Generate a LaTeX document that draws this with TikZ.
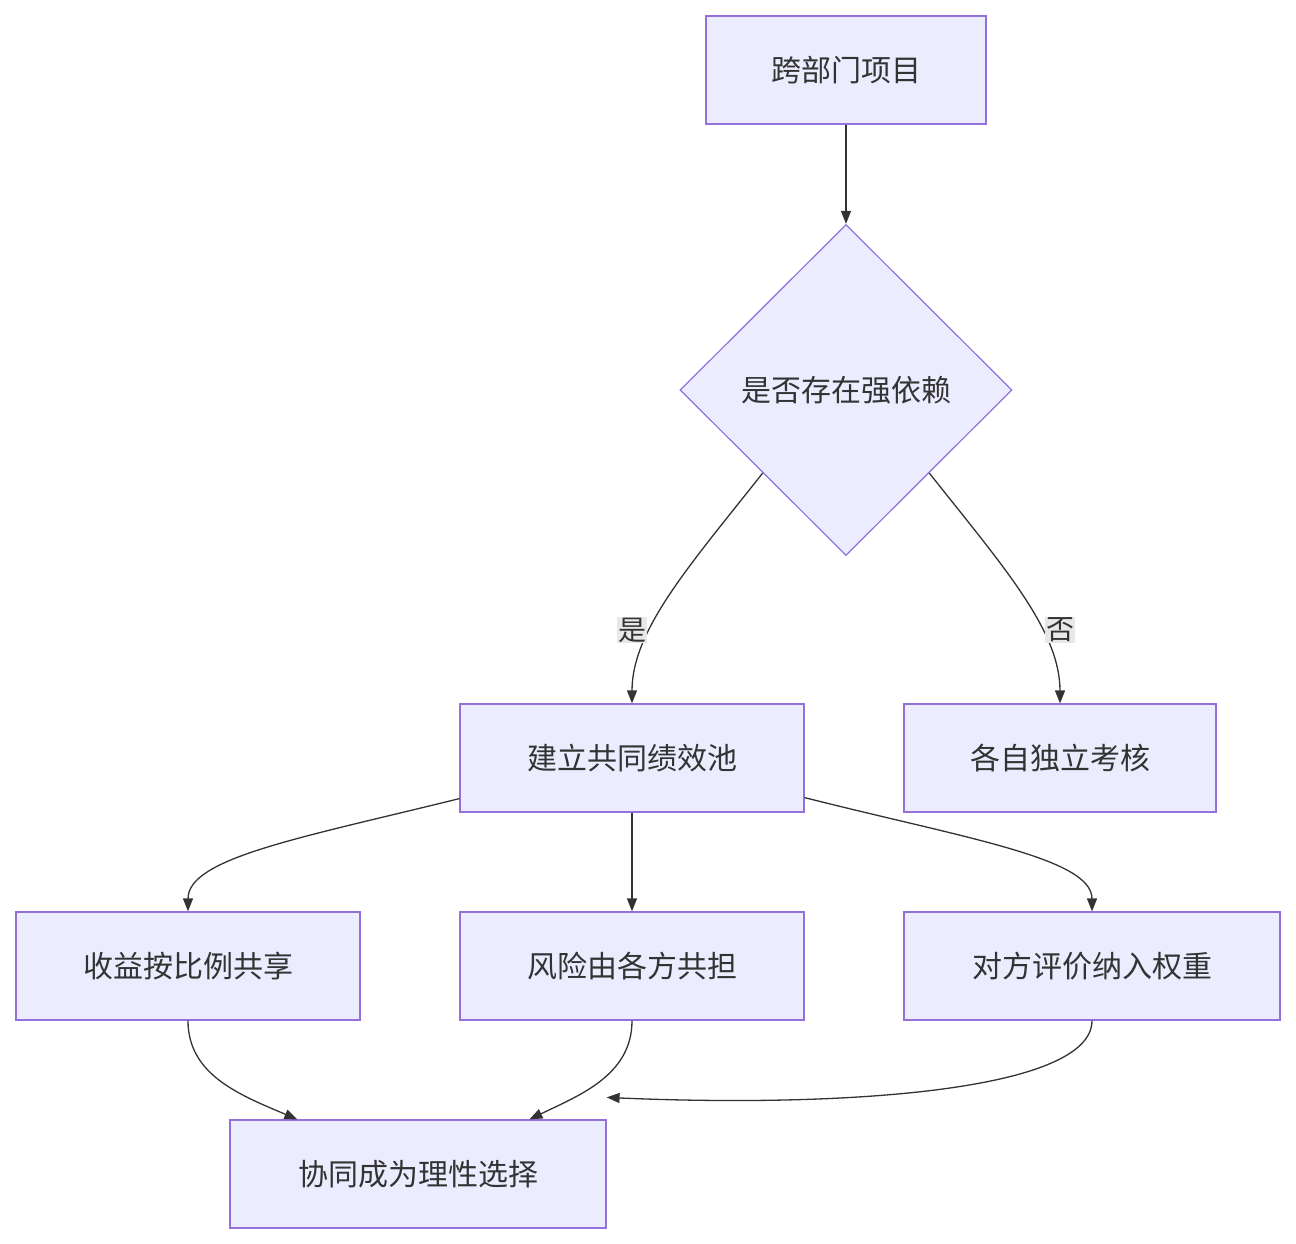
\documentclass[tikz,border=0pt]{standalone}
\usepackage{fontspec}
\setmainfont{Noto Sans CJK SC}
\usetikzlibrary{shapes.geometric,arrows.meta,calc}
\definecolor{nfill}{HTML}{ECECFF}
\definecolor{nline}{HTML}{9370DB}
\definecolor{txt}{HTML}{333333}
\begin{document}
\begin{tikzpicture}[x=1pt,y=-1pt,
  box/.style={draw=nline,fill=nfill,line width=1.2pt,minimum height=108pt,inner sep=0pt,text=txt,font=\fontsize{30}{36}\selectfont},
  lab/.style={fill=black!9,text=txt,inner sep=1pt,font=\fontsize{28}{34}\selectfont},
  edge/.style={draw=txt,line width=1.3pt,-{Triangle[length=13pt,width=10pt]}}]
\useasboundingbox (0,0) rectangle (1296,1244);
\node[box,minimum width=280pt] (A) at (846,70) {跨部门项目};
\node[box,diamond,minimum width=332pt,minimum height=331pt] (Q) at (846,390) {是否存在强依赖};
\node[box,minimum width=344pt] (B) at (632,758) {建立共同绩效池};
\node[box,minimum width=312pt] (C) at (1060,758) {各自独立考核};
\node[box,minimum width=344pt] (D) at (188,966) {收益按比例共享};
\node[box,minimum width=344pt] (E) at (632,966) {风险由各方共担};
\node[box,minimum width=376pt] (F) at (1092,966) {对方评价纳入权重};
\node[box,minimum width=376pt] (G) at (418,1174) {协同成为理性选择};
\draw[edge] (A) -- (Q);
\draw[edge] (Q.south west) .. controls (690,565) and (632,630) .. (B.north);
\draw[edge] (Q.south east) .. controls (1002,565) and (1060,630) .. (C.north);
\node[lab] (y) at (632,630) {是};
\node[lab] (n) at (1060,630) {否};
\draw[edge] ($(B.south west)+(0,-14)$) .. controls (300,838) and (188,858) .. (D.north);
\draw[edge] (B) -- (E);
\draw[edge] ($(B.south east)+(0,-15)$) .. controls (964,838) and (1092,858) .. (F.north);
\draw[edge] (D.south) .. controls (188,1075) and (240,1095) .. ($(G.north west)+(68,0)$);
\draw[edge] (E.south) .. controls (632,1075) and (580,1095) .. ($(G.north west)+(300,0)$);
\draw[edge] (F.south) .. controls (1092,1090) and (850,1108) .. ($(G.north east)+(0,-22)$);
\end{tikzpicture}
\end{document}
